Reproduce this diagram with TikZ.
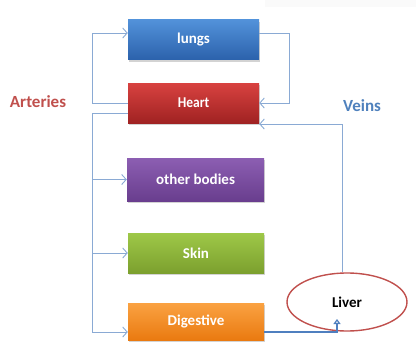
\documentclass[tikz,border=0pt]{standalone}
\usepackage{fontspec}
\setmainfont{Carlito}
\usetikzlibrary{arrows.meta,shadows,calc,shapes.geometric}
\definecolor{conncol}{HTML}{8AAAD4}
\definecolor{conndark}{HTML}{4F7FBF}
\definecolor{artcol}{HTML}{C0504D}
\definecolor{veincol}{HTML}{4F81BD}
\tikzset{
  box/.style={draw=none, minimum width=#1, text=white, font=\fontsize{15}{18}\selectfont\bfseries,
    drop shadow={shadow xshift=1pt, shadow yshift=-2pt, opacity=0.35}},
  conn/.style={draw=conncol, line width=0.9pt},
  tip/.style={-{Straight Barb[length=4.5pt,width=10pt]}},
  lbl/.style={font=\fontsize{17}{20}\selectfont\bfseries},
}
\begin{document}
\begin{tikzpicture}[x=1pt,y=-1pt]
\useasboundingbox (0,0) rectangle (416,343);
\fill[color=black!2] (265,0) rectangle (416,7);
% boxes
\node[box=131pt, minimum height=40pt, top color={rgb,255:red,82;green,146;blue,218}, bottom color={rgb,255:red,44;green,98;blue,172}] (lungs) at (193.5,39.5) {lungs};
\node[box=131pt, minimum height=40pt, top color={rgb,255:red,216;green,66;blue,64}, bottom color={rgb,255:red,160;green,34;blue,34}] (heart) at (193.5,103) {\scalebox{0.9}[1]{Heart}};
\node[box=137pt, minimum height=43pt, top color={rgb,255:red,140;green,94;blue,178}, bottom color={rgb,255:red,105;green,62;blue,142}] (other) at (195.5,179.5) {other bodies};
\node[box=136pt, minimum height=40pt, top color={rgb,255:red,158;green,200;blue,72}, bottom color={rgb,255:red,124;green,160;blue,46}] (skin) at (196,253) {Skin};
\node[box=136pt, minimum height=37pt, top color={rgb,255:red,250;green,162;blue,66}, bottom color={rgb,255:red,234;green,122;blue,16}] (dig) at (196,321.5) {Digestive};
% liver
\node[draw=artcol, line width=1.4pt, ellipse, minimum width=120pt, minimum height=58pt, inner sep=0pt, font=\fontsize{15}{18}\selectfont\bfseries] (liver) at (347,302) {Liver};
% labels
\node[lbl, text=artcol] (art) at (38,102) {Arteries};
\node[lbl, text=veincol] (vein) at (362,106) {Veins};
% coordinates
\coordinate (ltop) at (92,33);
\coordinate (rtop) at (289,33);
\coordinate (lbot) at (92,332);
\coordinate (vin) at (337,319);
\coordinate (vtop) at (342,124);
% arteries
\draw[conn,tip] (heart.west) -| (ltop) -- (ltop -| lungs.west);
\draw[conn,tip] (lungs.east |- rtop) -- (rtop) |- (heart.east);
\draw[conn,tip] ($(heart.west)+(0,10)$) -| (lbot) -- (lbot -| dig.west);
\draw[conn,tip] (lbot |- other.west) -- (other.west);
\draw[conn,tip] (lbot |- skin.west) -- (skin.west);
% veins
\draw[draw=conndark, line width=1.2pt, -{Triangle[open,length=5pt,width=7pt]}] (dig.east |- lbot) -| (vin);
\draw[conn,tip] (vtop |- liver.north) -- (vtop) -- (vtop -| heart.east);
\end{tikzpicture}
\end{document}
